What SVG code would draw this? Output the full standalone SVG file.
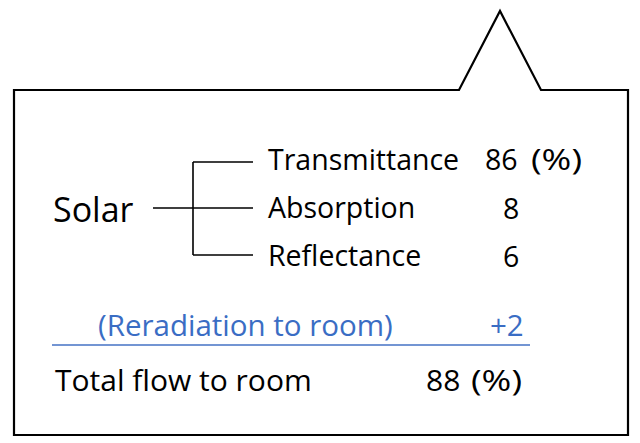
<svg xmlns="http://www.w3.org/2000/svg" width="640" height="443" viewBox="0 0 640 443">
<style>
.t{font-family:"Open Sans","Noto Sans","Liberation Sans",sans-serif;font-size:28.5px;fill:#000}
.b{fill:#3a6dc4;font-size:29.5px}
.s{font-size:30px}
.ln{stroke:#000;stroke-width:1.6;fill:none}
</style>
<rect width="640" height="443" fill="#fff"/>
<g id="callout">
<path d="M14,90 H459 L500,11 L541,90 H628 V435 H14 Z" fill="#fff" stroke="#000" stroke-width="2.2" stroke-linejoin="miter"/>
</g>
<g id="solar"><text class="t" x="53" y="222" style="font-size:34px">Solar</text></g>
<g id="connectors">
<path class="ln" d="M153,208 H253 M193,162 V255 M193,162 H253 M193,255 H253"/>
</g>
<g id="transmittance"><text class="t" x="268" y="170">Transmittance</text><text class="t" x="485" y="170">86</text><text class="t" x="531" y="170" textLength="51" lengthAdjust="spacingAndGlyphs">(%)</text></g>
<g id="absorption"><text class="t" x="268" y="218">Absorption</text><text class="t" x="503" y="219">8</text></g>
<g id="reflectance"><text class="t" x="268" y="266">Reflectance</text><text class="t" x="503" y="267">6</text></g>
<g id="reradiation"><text class="t b" x="98" y="336">(Reradiation to room)</text><text class="t b" x="490" y="336">+2</text>
<line x1="52" y1="345" x2="530" y2="345" stroke="#4472c4" stroke-width="1.6"/></g>
<g id="total"><text class="t s" x="426" y="391">88</text><text class="t s" x="471" y="391" textLength="51" lengthAdjust="spacingAndGlyphs">(%)</text><text class="t s" x="55" y="391">Total flow to room</text></g>
</svg>
